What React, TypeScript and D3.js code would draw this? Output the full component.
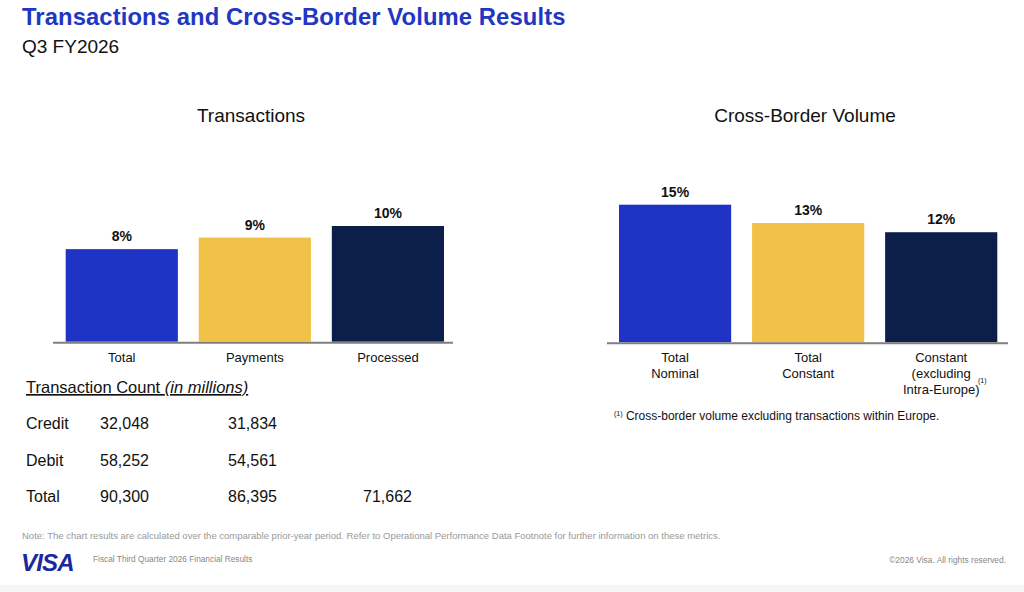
import * as d3 from 'd3';

// Transactions growth (%)
const txnCategories = ['Total', 'Payments', 'Processed'];
const txnGrowth = [8, 9, 10];

// Cross-border volume growth (%)
const cbCategories = [['Total', 'Nominal'], ['Total', 'Constant'], ['Constant', '(excluding', 'Intra-Europe)']];
const cbGrowth = [15, 13, 12];

const barColors = ['#1f33c4', '#f2c147', '#0c1f4a'];

// Transaction count table (in millions)
const countRows = ['Credit', 'Debit', 'Total'];
const countTotal = ['32,048', '58,252', '90,300'];
const countPayments = ['31,834', '54,561', '86,395'];
const countProcessed = ['', '', '71,662'];

const FONT = 'Liberation Sans, Arial, Helvetica, sans-serif';

function BarPanel({ labels, values, x0, x1, axisX0, axisX1, baseY, topY, maxVal, title, titleX }) {
  const x = d3.scaleBand().domain(labels.map((_, i) => String(i))).range([x0, x1]).paddingInner(0.157).paddingOuter(0);
  const y = d3.scaleLinear().domain([0, maxVal]).range([baseY, topY]);
  return (
    <g>
      <text x={titleX} y={122} textAnchor="middle" fontSize={19} fill="#111">{title}</text>
      {values.map((v, i) => (
        <g key={i}>
          <rect x={x(String(i))} y={y(v)} width={x.bandwidth()} height={y(0) - y(v)} fill={barColors[i]} />
          <text x={x(String(i)) + x.bandwidth() / 2} y={y(v) - 8} textAnchor="middle" fontSize={14} fontWeight="bold" fill="#111">{v}%</text>
        </g>
      ))}
      <line x1={axisX0} x2={axisX1} y1={y(0) + 1} y2={y(0) + 1} stroke="#7f7f7f" strokeWidth={2} />
      {labels.map((lab, i) => {
        const lines = Array.isArray(lab) ? lab : [lab];
        return lines.map((ln, j) => (
          <text key={i + '-' + j} x={x(String(i)) + x.bandwidth() / 2} y={y(0) + 20 + j * 16} textAnchor="middle" fontSize={13} fill="#111">{ln}</text>
        ));
      })}
    </g>
  );
}

export default function App() {
  const colX = [26, 100, 228, 363];
  const rowY = [429, 466, 502];
  return (
    <svg width={1024} height={592} style={{ position: 'absolute', left: 0, top: 0, display: 'block', fontFamily: FONT }}>
      <rect width={1024} height={592} fill="#ffffff" />
      <rect y={585} width={1024} height={7} fill="#f6f6f6" />
      <text x={22} y={25} fontSize={23.8} fontWeight="bold" fill="#2136c2" letterSpacing={0.1}>Transactions and Cross-Border Volume Results</text>
      <text x={22} y={53} fontSize={19} fill="#111">Q3 FY2026</text>

      <BarPanel labels={txnCategories} values={txnGrowth} x0={65.7} x1={444} axisX0={53} axisX1={453}
        baseY={341.7} topY={226} maxVal={10} title="Transactions" titleX={251} />
      <BarPanel labels={cbCategories} values={cbGrowth} x0={619} x1={997.3} axisX0={607} axisX1={1008}
        baseY={342.3} topY={204.7} maxVal={15} title="Cross-Border Volume" titleX={805} />
      <text x={978} y={383} fontSize={7} fill="#111">(1)</text>

      <text x={614} y={420} fontSize={12} fill="#111">
        <tspan fontSize={7} dy={-4}>(1)</tspan>
        <tspan dy={4}> Cross-border volume excluding transactions within Europe.</tspan>
      </text>

      <text x={26} y={393} fontSize={16.5} fill="#111" textDecoration="underline">
        Transaction Count <tspan fontStyle="italic">(in millions)</tspan>
      </text>
      {countRows.map((r, i) => (
        <g key={r} fontSize={16} fill="#111">
          <text x={colX[0]} y={rowY[i]}>{r}</text>
          <text x={colX[1]} y={rowY[i]}>{countTotal[i]}</text>
          <text x={colX[2]} y={rowY[i]}>{countPayments[i]}</text>
          <text x={colX[3]} y={rowY[i]}>{countProcessed[i]}</text>
        </g>
      ))}

      <text x={22} y={539} fontSize={9.5} fill="#999">Note: The chart results are calculated over the comparable prior-year period. Refer to Operational Performance Data Footnote for further information on these metrics.</text>
      <text x={21} y={571} fontSize={24} fontWeight="bold" fontStyle="italic" fill="#1a2a9e" letterSpacing={-0.8}>VISA</text>
      <text x={93} y={562} fontSize={8.3} fill="#888">Fiscal Third Quarter 2026 Financial Results</text>
      <text x={1006} y={563} fontSize={8.4} fill="#888" textAnchor="end">©2026 Visa. All rights reserved.</text>
    </svg>
  );
}
